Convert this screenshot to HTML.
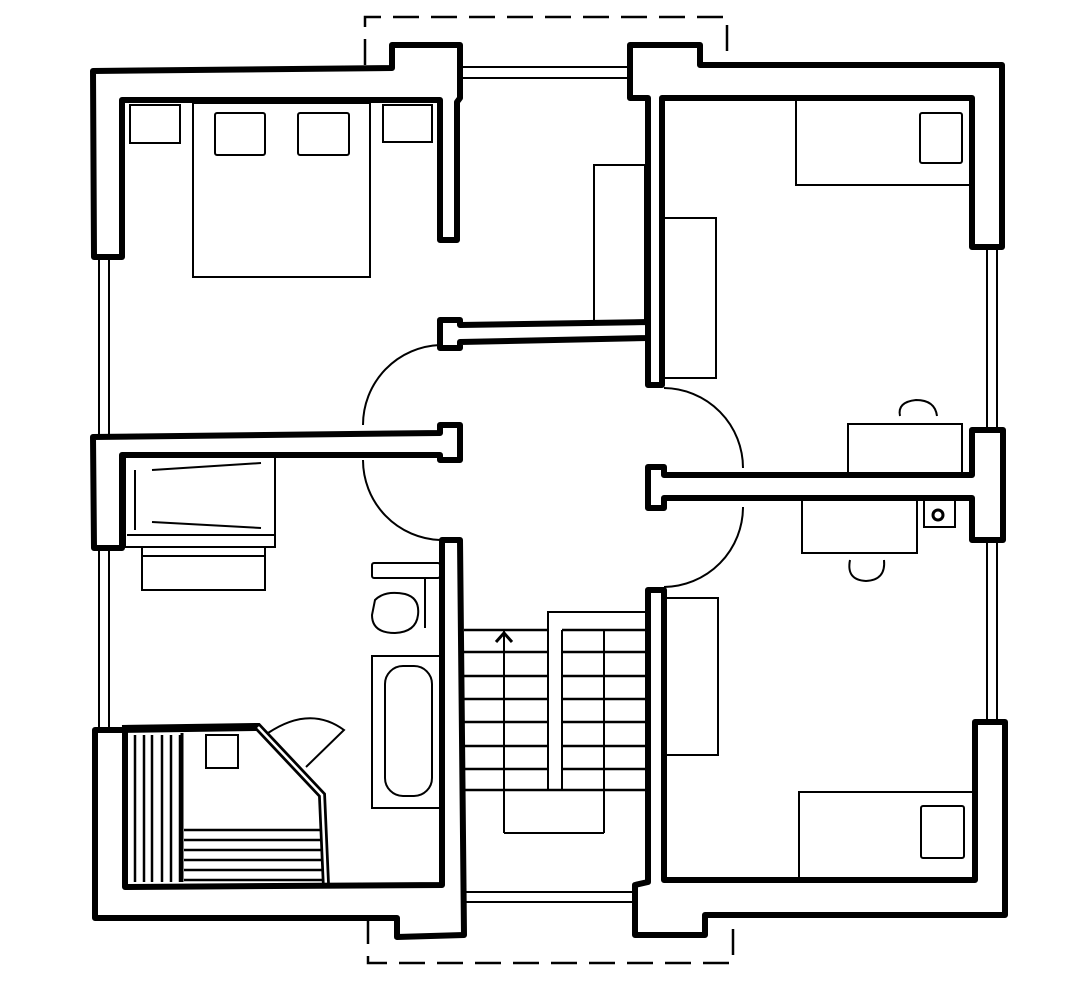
<!DOCTYPE html>
<html><head><meta charset="utf-8"><style>html,body{margin:0;padding:0;background:#fff}svg{display:block}</style></head>
<body>
<svg width="1077" height="1001" viewBox="0 0 1077 1001" xmlns="http://www.w3.org/2000/svg">
<g fill="none" stroke="#000" stroke-width="2">
<!-- dashed bays -->
<polyline points="365,65 365,17 727,17 727,65" stroke-dasharray="26,12" stroke-width="2.5"/>
<polyline points="368,918 368,963 733,963 733,918" stroke-dasharray="26,12" stroke-width="2.5"/>
<!-- windows -->
<line x1="99" y1="257" x2="99" y2="437"/><line x1="109" y1="257" x2="109" y2="437"/>
<line x1="99" y1="548" x2="99" y2="730"/><line x1="109" y1="548" x2="109" y2="730"/>
<line x1="987" y1="247" x2="987" y2="430"/><line x1="997" y1="247" x2="997" y2="430"/>
<line x1="987" y1="540" x2="987" y2="722"/><line x1="997" y1="540" x2="997" y2="722"/>
<line x1="462" y1="67" x2="632" y2="67"/><line x1="462" y1="78" x2="632" y2="78"/>
<line x1="464" y1="892" x2="636" y2="892"/><line x1="464" y1="902" x2="636" y2="902"/>
<!-- door arcs -->
<path d="M440,345 A80,80 0 0 0 363,425"/>
<path d="M363,460 A80,80 0 0 0 440,540"/>
<path d="M664,388 A80,80 0 0 1 743,468"/>
<path d="M743,507 A80,80 0 0 1 664,587"/>
<!-- furniture top-left -->
<rect x="130" y="105" width="50" height="38"/>
<rect x="383" y="105" width="49" height="37"/>
<rect x="193" y="103" width="177" height="174"/>
<rect x="215" y="113" width="50" height="42" rx="2"/>
<rect x="298" y="113" width="51" height="42" rx="2"/>
<rect x="594" y="165" width="51" height="157"/>
<!-- top right -->
<rect x="796" y="100" width="174" height="85"/>
<rect x="920" y="113" width="42" height="50" rx="2"/>
<rect x="664" y="218" width="52" height="160"/>
<rect x="848" y="424" width="114" height="52"/>
<path d="M900,416 Q897,402 916,400 Q935,400 937,416"/>
<!-- lower right -->
<rect x="802" y="500" width="115" height="53"/>
<path d="M850,560 Q846,580 866,581 Q886,580 884,560"/>
<rect x="924" y="500" width="31" height="27"/>
<circle cx="938" cy="515" r="5" stroke-width="3"/>
<rect x="664" y="598" width="54" height="157"/>
<rect x="799" y="792" width="174" height="88"/>
<rect x="921" y="806" width="43" height="52" rx="2"/>
<!-- left middle -->
<rect x="125" y="454" width="150" height="93"/>
<line x1="127" y1="535" x2="275" y2="535"/>
<line x1="135" y1="470" x2="135" y2="530"/>
<line x1="152" y1="470" x2="261" y2="463"/>
<line x1="152" y1="522" x2="261" y2="528"/>
<rect x="142" y="547" width="123" height="43"/>
<line x1="142" y1="556" x2="265" y2="556"/>
<!-- bathroom -->
<rect x="372" y="563" width="68" height="15" rx="2"/>
<line x1="425" y1="578" x2="425" y2="628"/>
<path d="M375,600 Q385,590 405,594 Q420,598 418,615 Q416,632 395,633 Q372,633 372,615 Z"/>
<rect x="372" y="656" width="68" height="152"/>
<rect x="385" y="666" width="47" height="130" rx="18"/>
<!-- storage bottom-left -->
<rect x="206" y="735" width="32" height="33"/>
<g stroke-width="2.5">
<line x1="135" y1="735" x2="135" y2="882"/><line x1="144" y1="735" x2="144" y2="882"/>
<line x1="152" y1="735" x2="152" y2="882"/><line x1="162" y1="735" x2="162" y2="882"/>
<line x1="171" y1="735" x2="171" y2="882"/><line x1="180" y1="735" x2="180" y2="882"/>
<line x1="184" y1="830" x2="322" y2="830"/><line x1="184" y1="840" x2="322" y2="840"/>
<line x1="184" y1="850" x2="322" y2="850"/><line x1="184" y1="860" x2="322" y2="860"/>
<line x1="184" y1="870" x2="322" y2="870"/><line x1="184" y1="880" x2="322" y2="880"/>
</g>
<line x1="182" y1="733" x2="182" y2="882" stroke-width="3"/>
<path d="M122,729 L258,727 L322,795 L326,886" stroke-width="8"/>
<path d="M258,727 L322,795 L326,886" stroke="#fff" stroke-width="2.5"/>
<path d="M268,733 Q310,705 344,730 L306,767"/>
<!-- stairs -->
<polyline points="548,790 548,612 648,612"/>
<polyline points="562,790 562,630"/>
<line x1="504" y1="630" x2="504" y2="833"/>
<line x1="604" y1="630" x2="604" y2="833"/>
<line x1="504" y1="833" x2="604" y2="833"/>
<g stroke-width="2.5">
<line x1="464" y1="630" x2="548" y2="630"/><line x1="562" y1="630" x2="648" y2="630"/>
<line x1="464" y1="652" x2="548" y2="652"/><line x1="562" y1="652" x2="648" y2="652"/>
<line x1="464" y1="676" x2="548" y2="676"/><line x1="562" y1="676" x2="648" y2="676"/>
<line x1="464" y1="699" x2="548" y2="699"/><line x1="562" y1="699" x2="648" y2="699"/>
<line x1="464" y1="722" x2="548" y2="722"/><line x1="562" y1="722" x2="648" y2="722"/>
<line x1="464" y1="746" x2="548" y2="746"/><line x1="562" y1="746" x2="648" y2="746"/>
<line x1="464" y1="769" x2="548" y2="769"/><line x1="562" y1="769" x2="648" y2="769"/>
<line x1="464" y1="790" x2="648" y2="790"/>
</g>
<polyline points="496,642 504,633 512,642" stroke-width="3"/>
</g>
<!-- walls -->
<g fill="#fff" stroke="#000" stroke-width="6" stroke-linejoin="round">
<polygon points="93,71 392,68 392,45 460,45 460,98 457,102 457,240 440,240 440,100 122,100 122,257 94,257"/>
<polygon points="630,45 700,45 700,65 1002,65 1002,247 972,247 972,98 662,98 662,385 648,385 648,98 630,98"/>
<polygon points="440,320 440,348 460,348 460,342 648,338 648,322 460,325 460,320"/>
<polygon points="93,437 440,433 440,425 460,425 460,460 440,460 440,455 122,455 122,548 94,548"/>
<polygon points="648,467 664,467 664,475 972,475 972,430 1003,430 1003,540 972,540 972,498 664,498 664,508 648,508"/>
<polygon points="95,730 125,730 125,887 442,885 442,540 460,540 464,935 397,937 397,918 95,918"/>
<polygon points="648,590 664,590 664,880 975,880 975,722 1005,722 1005,915 705,915 705,935 635,935 635,885 648,882"/>
</g>
</svg>
</body></html>
